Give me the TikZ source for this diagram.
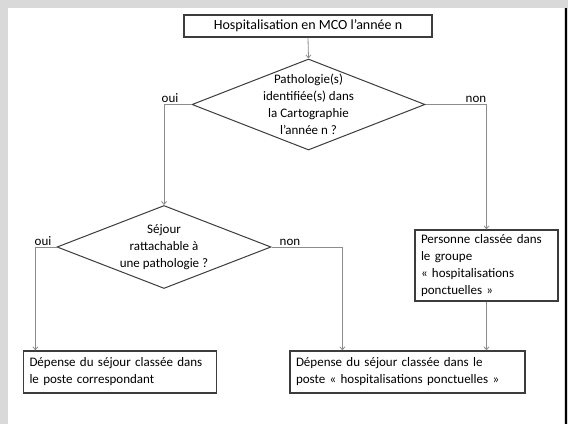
\documentclass[tikz,border=0pt]{standalone}
\usepackage{fontspec}
\setmainfont{Carlito}
\usetikzlibrary{shapes.geometric,arrows.meta}
\definecolor{bordure}{HTML}{3C3C3C}
\definecolor{fleche}{HTML}{8C8C8C}
\definecolor{fond}{HTML}{D9D9D9}
\begin{document}
\begin{tikzpicture}[x=1pt,y=-1pt,font=\fontsize{13}{17}\selectfont,
  boite/.style={draw=bordure,line width=1.2pt,inner xsep=6pt,inner ysep=0pt,align=left},
  losange/.style={draw=bordure,line width=1pt,diamond,aspect=2.57,align=center,inner sep=-8pt},
  lien/.style={draw=fleche,line width=0.8pt,-{Straight Barb[length=3pt,width=5pt]}},
  etiq/.style={inner sep=0pt,anchor=base}]
\fill[fond] (0,0) rectangle (568,424);
\fill[white] (8,8) rectangle (564,424);
\draw[line width=2pt] (565.5,8) -- (565.5,424);
\node[boite, minimum width=248, minimum height=22, align=center, font=\fontsize{14}{17}\selectfont] (1) at (308,26) {Hospitalisation en MCO l'année n};
\node[losange, minimum width=233, minimum height=91] (2) at (308.5,104.5) {Pathologie(s)\\identifiée(s) dans\\la Cartographie\\l'année n ?};
\node[losange, minimum width=214, minimum height=83] (3) at (164,247) {Séjour\\rattachable à\\une pathologie ?};
\node[boite, text width=131, minimum height=71] (4) at (486.5,265.5) {Personne classée dans\\le groupe\\« hospitalisations\\ponctuelles »};
\node[boite, text width=181, minimum height=42] (5) at (120,372) {Dépense du séjour classée dans\\le poste correspondant};
\node[boite, text width=223, minimum height=42] (6) at (407.5,372) {Dépense du séjour classée dans le\\poste « hospitalisations ponctuelles »};
\node[etiq] (o1) at (170,103) {oui};
\node[etiq] (n1) at (476,103) {non};
\node[etiq] (o2) at (43,245) {oui};
\node[etiq] (n2) at (290,245) {non};
\path[lien] (1.south) -- (2.north);
\path[lien] (2.west) -| (3.north);
\path[lien] (2.east) -| (4.north);
\path[lien] (3.west) -| ([xshift=12.5]5.north west);
\path[lien] (3.east) -| ([xshift=53]6.north west);
\path[lien] (4.south) -- (4.south |- 6.north);
\end{tikzpicture}
\end{document}
